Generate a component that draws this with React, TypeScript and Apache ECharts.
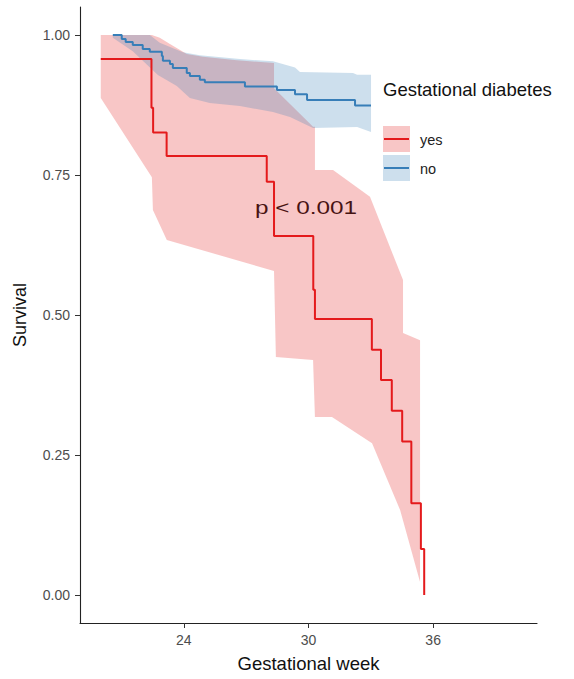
import React, { useEffect, useRef } from "react";
import * as echarts from "echarts";

// ---- data ----
const xTicks = [24, 30, 36];
const yTicks = [0, 0.25, 0.5, 0.75, 1.0];

// Kaplan–Meier steps: [week, survival after event]
const yesCurve: [number, number][] = [
  [20.0, 0.957], [22.44, 0.87], [22.52, 0.826], [23.17, 0.784], [27.99, 0.738],
  [28.34, 0.641], [30.23, 0.545], [30.31, 0.493], [33.05, 0.438], [33.49, 0.384],
  [34.01, 0.329], [34.51, 0.274], [34.95, 0.164], [35.41, 0.082], [35.57, 0.0],
];
const noCurve: [number, number][] = [
  [20.58, 1.0], [21.01, 0.993], [21.2, 0.9875], [21.54, 0.982], [22.02, 0.975],
  [22.36, 0.97], [22.94, 0.9625], [22.99, 0.954], [23.33, 0.948], [23.47, 0.941],
  [24.14, 0.932], [24.29, 0.927], [24.77, 0.92], [25.01, 0.9155], [26.94, 0.908],
  [28.48, 0.902], [29.35, 0.894], [29.93, 0.884], [32.24, 0.874], [33.01, 0.874],
];

// confidence bands: upper and lower edges
const yesUpper: [number, number][] = [
  [20.0, 1.0], [22.46, 1.0], [22.84, 0.995], [23.33, 0.984], [24.14, 0.966],
  [24.92, 0.961], [26.55, 0.955], [28.34, 0.95], [28.34, 0.905], [30.22, 0.836],
  [30.31, 0.836], [30.31, 0.759], [31.18, 0.759], [32.96, 0.711], [34.55, 0.5625],
  [34.55, 0.468], [35.37, 0.455], [35.37, 0.0625],
];
const yesLower: [number, number][] = [
  [20.0, 0.8875], [22.46, 0.746], [22.51, 0.6875], [23.18, 0.634], [28.34, 0.5786],
  [28.43, 0.425], [30.22, 0.4196], [30.31, 0.318], [31.13, 0.318], [33.06, 0.271],
  [34.41, 0.152], [35.37, 0.023],
];
const noUpper: [number, number][] = [
  [20.58, 1.0], [22.36, 1.0], [22.84, 0.986], [23.95, 0.969], [24.77, 0.964],
  [26.7, 0.957], [28.29, 0.953], [29.35, 0.942], [29.59, 0.934], [32.14, 0.932],
  [32.34, 0.929], [33.01, 0.929],
];
const noLower: [number, number][] = [
  [20.58, 0.995], [21.54, 0.971], [22.75, 0.9286], [23.66, 0.909], [24.29, 0.8875],
  [25.25, 0.8786], [26.7, 0.873], [28.29, 0.8625], [29.11, 0.8536], [30.22, 0.834],
  [32.34, 0.8357], [33.01, 0.827],
];

const groups = ["yes", "no"];
const pText = "p < 0.001";

const FONT = '"Liberation Sans", Arial, Helvetica, sans-serif';
const RED = "#E41A1C";
const BLUE = "#377EB8";
const RED_FILL = "rgba(228,26,28,0.25)";
const BLUE_FILL = "rgba(55,126,184,0.25)";

function bandSeries(upper: [number, number][], lower: [number, number][], fill: string) {
  return {
    type: "custom",
    silent: true,
    data: [...upper, ...lower],
    encode: { x: 0, y: 1 },
    renderItem: (params: any, api: any) => {
      if (params.dataIndex !== 0) return null;
      const pts = [
        ...upper.map((p) => api.coord(p)),
        ...lower.slice().reverse().map((p) => api.coord(p)),
      ];
      return { type: "polygon", shape: { points: pts }, style: { fill, stroke: "none" } };
    },
  };
}

export default function App() {
  const ref = useRef<HTMLDivElement>(null);
  useEffect(() => {
    document.body.style.margin = "0";
    const chart = echarts.init(ref.current!, undefined, { renderer: "svg" });
    chart.setOption({
      animation: false,
      backgroundColor: "#ffffff",
      textStyle: { fontFamily: FONT },
      grid: { left: 80, right: 37, top: 7, bottom: 56, containLabel: false },
      xAxis: {
        type: "value",
        min: 19,
        max: 41,
        name: "Gestational week",
        nameLocation: "middle",
        nameGap: 31,
        nameTextStyle: { fontSize: 18.5, color: "#111", fontFamily: FONT },
        axisLine: { show: true, onZero: false, lineStyle: { color: "#222", width: 1.1 } },
        axisTick: { show: true, length: 5, customValues: xTicks, lineStyle: { color: "#333" } },
        axisLabel: { customValues: xTicks, fontSize: 14, color: "#4D4D4D", margin: 10, fontFamily: FONT },
        splitLine: { show: false },
      },
      yAxis: {
        type: "value",
        min: -0.05,
        max: 1.05,
        name: "Survival",
        nameLocation: "middle",
        nameGap: 51,
        nameTextStyle: { fontSize: 18, color: "#111", fontFamily: FONT },
        axisLine: { show: true, onZero: false, lineStyle: { color: "#222", width: 1.1 } },
        axisTick: { show: true, length: 5, customValues: yTicks, lineStyle: { color: "#333" } },
        axisLabel: {
          customValues: yTicks,
          fontSize: 14,
          color: "#4D4D4D",
          margin: 10,
          fontFamily: FONT,
          formatter: (v: number) => v.toFixed(2),
        },
        splitLine: { show: false },
      },
      series: [
        {
          name: groups[0],
          type: "line",
          step: "end",
          data: yesCurve,
          showSymbol: false,
          lineStyle: { color: RED, width: 2 },
          itemStyle: { color: RED },
        },
        {
          name: groups[1],
          type: "line",
          step: "end",
          data: noCurve,
          showSymbol: false,
          lineStyle: { color: BLUE, width: 2 },
          itemStyle: { color: BLUE },
        },
        bandSeries(yesUpper, yesLower, RED_FILL),
        bandSeries(noUpper, noLower, BLUE_FILL),
      ],
      graphic: [
        {
          type: "text",
          x: 255,
          y: 207.6,
          scaleX: 1.28,
          style: {
            text: pText,
            fontSize: 19,
            fontFamily: FONT,
            fill: "#111",
            align: "left",
            verticalAlign: "middle",
          },
        },
        {
          type: "text",
          x: 383,
          y: 89,
          style: {
            text: "Gestational diabetes",
            fontSize: 18.5,
            fontFamily: FONT,
            fill: "#111",
            align: "left",
            verticalAlign: "middle",
          },
        },
        { type: "rect", shape: { x: 383, y: 126, width: 27, height: 26 }, style: { fill: RED_FILL } },
        { type: "line", shape: { x1: 384, y1: 139, x2: 409, y2: 139 }, style: { stroke: RED, lineWidth: 2 } },
        { type: "rect", shape: { x: 383, y: 155, width: 27, height: 26 }, style: { fill: BLUE_FILL } },
        { type: "line", shape: { x1: 384, y1: 168, x2: 409, y2: 168 }, style: { stroke: BLUE, lineWidth: 2 } },
        {
          type: "text",
          x: 420,
          y: 140,
          style: { text: groups[0], fontSize: 14.5, fontFamily: FONT, fill: "#222", align: "left", verticalAlign: "middle" },
        },
        {
          type: "text",
          x: 420,
          y: 169,
          style: { text: groups[1], fontSize: 14.5, fontFamily: FONT, fill: "#222", align: "left", verticalAlign: "middle" },
        },
      ],
    });
    return () => chart.dispose();
  }, []);
  return <div ref={ref} style={{ width: 574, height: 679 }} />;
}
